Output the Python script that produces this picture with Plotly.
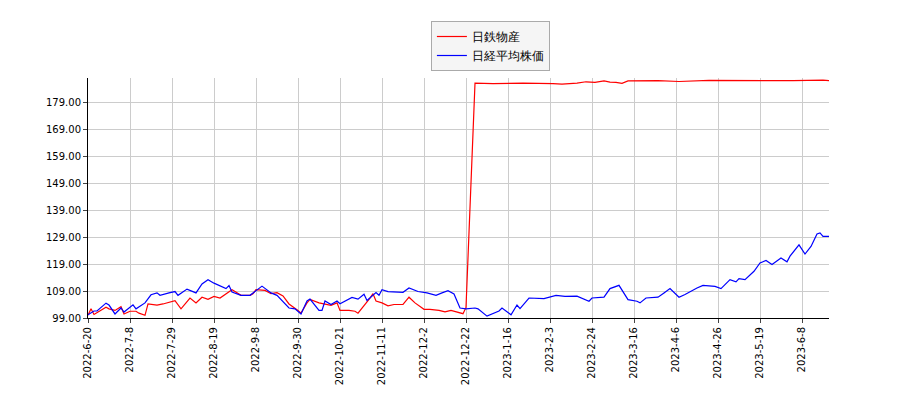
import plotly.graph_objects as go

# trading-day index -> value
red_idx = [0, 1, 2, 6, 7, 9, 11, 12, 14, 16, 17, 19, 20, 23, 25, 29, 31, 34, 36, 38, 40, 42, 44, 46, 48, 49,
           51, 54, 55, 56, 59, 61, 63, 65, 67, 70, 71, 73, 74, 77, 79, 81, 83, 84, 87, 89, 90, 92, 94, 95,
           96, 98, 100, 102, 105, 107, 109, 112, 114, 117, 119, 121, 125, 126, 127, 128, 129, 135, 145, 155,
           158, 163, 166, 169, 172, 174, 176, 178, 180, 190, 197, 207, 220, 235, 245, 247]
red_val = [100.0, 102.4, 100.3, 103.0, 102.4, 101.8, 103.2, 100.5, 101.5, 101.5, 100.8, 100.0, 104.2, 103.8,
           104.2, 105.4, 102.4, 106.4, 104.6, 106.7, 105.9, 107.0, 106.4, 107.9, 109.5, 108.8,
           107.4, 107.4, 108.0, 109.5, 109.2, 108.0, 108.4, 107.2, 104.2, 101.8, 100.8, 104.6, 105.9, 104.6,
           104.2, 103.7, 104.6, 101.8, 101.8, 101.5, 100.8, 103.5, 106.4, 108.0,
           105.3, 104.6, 103.5, 104.0, 104.0, 106.7, 104.6, 102.2, 102.2, 101.8, 101.3, 101.8, 100.6, 102.9,
           128.6, 159.5, 186.0, 185.8, 186.0, 185.8,
           185.6, 186.0, 186.5, 186.3, 186.8, 186.4, 186.3, 185.9, 186.8, 186.9, 186.6, 187.0, 186.9, 186.9,
           187.1, 186.9]

blue_idx = [0, 2, 3, 6, 7, 9, 11, 12, 15, 16, 19, 21, 23, 24, 27, 29, 30, 33, 36, 38, 40, 42, 46, 47, 48,
            51, 54, 56, 58, 61, 63, 67, 69, 71, 73, 74, 77, 78, 79, 81, 83, 84, 87, 88, 90, 92, 93, 96, 97,
            98, 100, 105, 107, 110, 113, 116, 118, 120, 122, 124, 126, 129, 130, 133, 137, 138, 141, 143,
            144, 147, 152, 156, 159, 163, 167, 168, 172, 174, 177, 180, 183, 184, 186, 190, 192, 194, 197,
            199, 203, 205, 209, 211, 214, 216, 217, 219, 222, 224, 226, 228, 231, 233, 234, 237, 239, 241,
            243, 244, 245, 247]
blue_val = [100.2, 101.6, 101.6, 104.5, 103.8, 100.5, 102.7, 101.2, 103.9, 102.4, 104.6, 107.6, 108.3, 107.4,
            108.3, 108.8, 107.4, 109.7, 108.3, 111.6, 113.2, 111.9, 109.9, 111.0, 108.6,
            107.4, 107.4, 109.0, 110.8, 108.3, 107.4, 102.7, 102.4, 100.5, 105.3, 106.0, 101.8, 101.8, 105.3,
            104.0, 105.3, 104.3, 106.0, 106.6, 106.0, 107.8, 105.5, 108.4, 107.4,
            109.5, 108.8, 108.5, 110.1, 108.8, 108.3, 107.4, 108.3, 109.1, 107.9, 102.7, 102.4, 102.7, 102.4,
            99.7, 101.6, 102.7, 100.2, 103.8,
            102.5, 106.4, 106.2, 107.4, 107.0, 107.1, 105.2, 106.4, 106.7, 109.9, 111.1, 105.8, 105.2, 104.6,
            106.4, 106.7, 108.3, 109.9, 106.7,
            107.7, 110.1, 111.1, 110.7, 109.9, 113.2, 112.4, 113.6, 113.2, 116.3, 119.4, 120.3, 118.8, 121.2,
            119.8, 121.9, 126.1, 122.7, 125.5,
            130.1, 130.5, 129.2, 129.2]

tick_idx = [0, 14, 28, 42, 56, 70, 84, 98, 112, 126, 140, 154, 168, 182, 196, 210, 224, 238]
tick_text = ["2022-6-20", "2022-7-8", "2022-7-29", "2022-8-19", "2022-9-8", "2022-9-30", "2022-10-21",
             "2022-11-11", "2022-12-2", "2022-12-22", "2023-1-16", "2023-2-3", "2023-2-24", "2023-3-16",
             "2023-4-6", "2023-4-26", "2023-5-19", "2023-6-8"]
y_ticks = [99, 109, 119, 129, 139, 149, 159, 169, 179]

fig = go.Figure()
fig.add_trace(go.Scatter(x=red_idx, y=red_val, mode='lines', name='日鉄物産', line=dict(color='red', width=1.2)))
fig.add_trace(go.Scatter(x=blue_idx, y=blue_val, mode='lines', name='日経平均株価', line=dict(color='blue', width=1.2)))

fig.update_layout(
    width=900, height=400, margin=dict(l=80, r=79, t=70, b=90, autoexpand=False),
    plot_bgcolor='white', paper_bgcolor='white',
    font=dict(family='DejaVu Sans', size=10, color='black'),
    showlegend=True,
    legend=dict(xref='container', yref='container', x=0.536, y=0.9675, xanchor='center', yanchor='top',
                bordercolor='#aaaaaa', borderwidth=1, bgcolor='#f5f5f5', font=dict(size=12)),
)
fig.update_xaxes(range=[0, 247], tickmode='array', tickvals=tick_idx, ticktext=tick_text, tickangle=-90,
                 showgrid=True, gridcolor='#cccccc', showline=True, linecolor='black', ticks='outside',
                 ticklen=4, zeroline=False, automargin=False)
fig.update_yaxes(range=[99, 187.9], tickmode='array', tickvals=y_ticks, ticktext=[f"{v:.2f}" for v in y_ticks],
                 showgrid=True, gridcolor='#cccccc', showline=True, linecolor='black', ticks='outside',
                 ticklen=4, zeroline=False, automargin=False)

fig.write_html("out.html")
